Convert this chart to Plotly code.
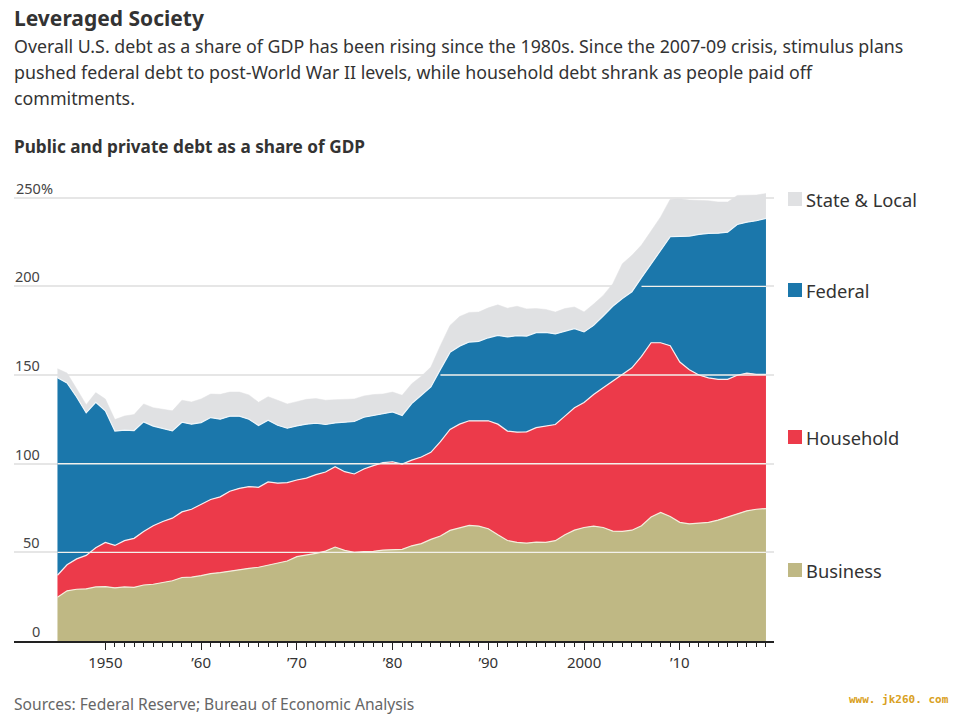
import plotly.graph_objects as go

years = list(range(1945, 2020))

# tops of the stacked bands, % of GDP
business_top = [24.7, 28.3, 29.2, 29.4, 30.5, 30.7, 30.0, 30.5, 30.3, 31.6,
                32.0, 33.1, 34.0, 35.8, 36.0, 36.9, 38.0, 38.6, 39.5, 40.0,
                41.0, 41.6, 42.7, 43.6, 45.1, 47.6, 48.3, 49.4, 50.7, 53.0,
                51.1, 50.0, 50.4, 50.6, 51.3, 51.7, 51.7, 53.7, 54.9, 57.3,
                59.2, 62.4, 64.0, 65.2, 64.8, 63.3, 59.9, 56.7, 55.6, 55.2,
                55.8, 55.6, 56.6, 59.9, 62.5, 64.0, 64.8, 64.0, 62.0, 61.8,
                62.5, 65.0, 69.9, 72.5, 70.2, 66.9, 66.1, 66.5, 66.9, 68.2,
                69.9, 71.7, 73.4, 74.3, 74.7]
household_top = [37.1, 43.0, 46.3, 48.3, 52.6, 55.6, 53.9, 56.6, 57.9, 61.8,
                 65.0, 67.4, 69.3, 72.8, 74.3, 77.0, 79.8, 81.3, 84.5, 86.1,
                 87.1, 86.7, 89.7, 89.0, 89.3, 90.8, 91.9, 93.8, 95.3, 98.3,
                 95.5, 94.2, 97.0, 98.9, 100.6, 101.1, 99.8, 102.0, 103.8, 106.4,
                 112.4, 119.3, 122.3, 124.2, 124.4, 124.2, 122.3, 118.4, 117.8, 118.0,
                 120.3, 121.0, 122.1, 126.8, 131.5, 134.5, 139.0, 142.8, 146.4, 150.2,
                 154.1, 160.5, 168.2, 168.2, 166.5, 157.3, 153.0, 150.0, 148.4, 147.6,
                 147.6, 149.9, 151.1, 150.4, 150.4]
federal_top = [148.5, 145.5, 137.6, 128.7, 134.6, 129.8, 118.4, 118.9, 118.7, 123.6,
               121.2, 119.9, 118.5, 123.4, 122.3, 123.2, 126.0, 125.1, 126.8, 126.8,
               125.1, 121.5, 124.5, 121.7, 120.0, 121.3, 122.3, 122.8, 122.1, 123.0,
               123.6, 123.8, 126.2, 127.2, 127.9, 129.2, 127.2, 133.9, 138.6, 143.3,
               153.2, 162.8, 166.3, 168.6, 169.0, 171.0, 172.4, 171.5, 172.2, 172.0,
               173.9, 174.1, 173.2, 174.9, 176.2, 174.3, 178.0, 183.3, 188.8, 193.1,
               197.0, 204.9, 212.7, 219.8, 228.0, 228.2, 228.4, 229.3, 229.9, 230.0,
               230.6, 234.9, 236.2, 237.0, 238.4]
state_top = [153.6, 151.1, 142.3, 133.3, 140.1, 136.5, 124.9, 126.9, 127.7, 133.7,
             131.6, 130.9, 129.8, 135.8, 134.8, 136.5, 139.3, 139.1, 140.4, 140.4,
             138.8, 134.6, 137.8, 135.8, 133.7, 135.0, 136.3, 136.7, 135.8, 136.1,
             136.5, 136.5, 138.2, 139.0, 139.3, 140.4, 138.6, 145.1, 149.3, 154.5,
             166.7, 178.0, 183.0, 185.3, 185.5, 187.9, 189.6, 187.7, 188.8, 187.3,
             187.5, 187.0, 185.5, 187.5, 188.4, 185.6, 190.0, 194.9, 201.5, 212.8,
             217.5, 223.3, 231.2, 239.2, 249.2, 249.4, 248.7, 248.5, 248.3, 247.6,
             247.6, 251.3, 251.5, 251.5, 252.4]

y_ticks = [0, 50, 100, 150, 200, 250]
y_labels = ["0", "50", "100", "150", "200", "250%"]
x_ticks = [1950, 1960, 1970, 1980, 1990, 2000, 2010]
x_labels = ["1950", "’60", "’70", "’80", "’90", "2000", "’10"]
x_minor = [y for y in range(1951, 2020) if y % 10 != 0]

# legend text with the pixel row of each key in the original
legend_names = ["State & Local", "Federal", "Household", "Business"]
legend_rows = [199, 290, 437, 570]

tan = "#BFB884"
red = "#EC3A4A"
blue = "#1B77AB"
grey = "#E0E1E3"
sans = "Noto Sans"

W, H = 960, 719
L, R, T, B = 14, 186, 180, 78


def px_x(px):
    return (px - L) / (W - L - R)


def px_y(px):
    return (H - B - px) / (H - T - B)


fig = go.Figure()

fig.add_scatter(x=years, y=business_top, mode="lines", fill="tozeroy",
                fillcolor=tan, line=dict(color="#F4EEDD", width=1.2))
fig.add_scatter(x=years, y=household_top, mode="lines", fill="tonexty",
                fillcolor=red, line=dict(color="#FBEDEE", width=1.2))
fig.add_scatter(x=years, y=federal_top, mode="lines", fill="tonexty",
                fillcolor=blue, line=dict(color="#EFF6FA", width=1.2))
fig.add_scatter(x=years, y=state_top, mode="lines", fill="tonexty",
                fillcolor=grey, line=dict(color=grey, width=0.5))

# the gridlines show through the coloured bands as pale lines
for g in y_ticks[1:]:
    fig.add_scatter(x=years, y=[g if t >= g else None for t in federal_top],
                    mode="lines", line=dict(color="#F3F1EC", width=1.4))

fig.update_xaxes(range=[1940.46, 2019.84], tickmode="array", tickvals=x_ticks,
                 ticktext=x_labels, ticks="outside", ticklen=7, tickwidth=1,
                 tickcolor="#222", showgrid=False, zeroline=False, showline=True,
                 linecolor="#222", linewidth=1.5,
                 tickfont=dict(family=sans, size=15, color="#333"),
                 minor=dict(tickmode="array", tickvals=x_minor, ticks="outside",
                            ticklen=4, tickwidth=1, tickcolor="#222", showgrid=False))
fig.update_yaxes(range=[0, 260], tickmode="array", tickvals=y_ticks, showticklabels=False,
                 showgrid=True, gridcolor="#E6E6E6", gridwidth=1.5, zeroline=False)

# y labels sit above their gridlines
for v, lab in zip(y_ticks, y_labels):
    fig.add_annotation(xref="paper", yref="y", x=px_x(14 if lab.endswith("%") else 42), y=v,
                       text=lab, showarrow=False, yanchor="bottom", yshift=-2,
                       xanchor="left" if lab.endswith("%") else "right",
                       font=dict(family=sans, size=14.5, color="#444"))

for name, row, color in zip(legend_names, legend_rows, [grey, blue, red, tan]):
    fig.add_shape(type="rect", xref="paper", yref="paper", x0=px_x(788), x1=px_x(802),
                  y0=px_y(row - 7), y1=px_y(row + 7), fillcolor=color, line_width=0)
    fig.add_annotation(xref="paper", yref="paper", x=px_x(804), y=px_y(row), text=name,
                       showarrow=False, xanchor="left", yanchor="middle",
                       font=dict(family=sans, size=18.3, color="#333"))

texts = [
    ("Leveraged Society", 18, 21, "#333", True),
    ("Overall U.S. debt as a share of GDP has been rising since the 1980s. Since the 2007-09 crisis, stimulus plans", 46, 17.8, "#333", False),
    ("pushed federal debt to post-World War II levels, while household debt shrank as people paid off", 72, 17.8, "#333", False),
    ("commitments.", 98, 17.8, "#333", False),
    ("Public and private debt as a share of GDP", 146, 17.2, "#333", True),
    ("Sources: Federal Reserve; Bureau of Economic Analysis", 704, 15.6, "#666", False),
]
for text, row, size, color, bold in texts:
    fig.add_annotation(xref="paper", yref="paper", x=px_x(12), y=px_y(row),
                       text=f"<b>{text}</b>" if bold else text, showarrow=False,
                       xanchor="left", yanchor="middle",
                       font=dict(family=sans, size=size, color=color))

fig.add_annotation(xref="paper", yref="paper", x=px_x(847), y=px_y(699), text="<b>www. jk260. com</b>",
                   showarrow=False, xanchor="left", yanchor="middle",
                   font=dict(family="DejaVu Sans Mono", size=11, color="#D9A021"))

fig.update_layout(width=W, height=H, showlegend=False, hovermode=False,
                  margin=dict(l=L, r=R, t=T, b=B, pad=0),
                  paper_bgcolor="white", plot_bgcolor="white")

fig.write_html("out.html", post_script="document.body.style.margin='0';",
               config={"displayModeBar": False})
